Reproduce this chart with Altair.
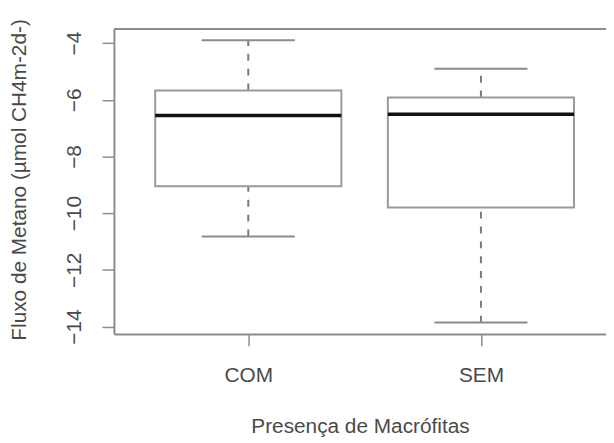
import altair as alt
import pandas as pd

# ---- data ----
groups = ["COM", "SEM"]
group_index = [1, 2]
lower_whisker = [-10.82, -13.86]
q1 = [-9.05, -9.80]
median = [-6.55, -6.51]
q3 = [-5.67, -5.92]
upper_whisker = [-3.90, -4.90]
y_ticks = [-4, -6, -8, -10, -12, -14]

df = pd.DataFrame({
    "grupo": groups,
    "pos": group_index,
    "lw": lower_whisker,
    "q1": q1,
    "med": median,
    "q3": q3,
    "uw": upper_whisker,
})

W, H = 497, 308
FONT = "Liberation Sans"
TXT = "#4a4a4a"
LINE = "#8c8c8c"
FS = 21

xscale = alt.Scale(domain=[0.4226, 2.5375], nice=False, zero=False)
yscale = alt.Scale(domain=[-14.26, -3.5], nice=False, zero=False)

x_axis = alt.Axis(
    values=[1, 2],
    labelExpr="datum.value == 1 ? 'COM' : 'SEM'",
    title="Presença de Macrófitas",
    grid=False,
    domainColor=LINE, domainWidth=2,
    tickColor=LINE, tickWidth=1.5, tickSize=12,
    labelFont=FONT, labelFontSize=FS, labelColor=TXT, labelPadding=19,
    titleFont=FONT, titleFontSize=FS, titleColor=TXT, titleFontWeight="normal",
    titleY=94, titleBaseline="middle",
)
y_axis = alt.Axis(
    values=y_ticks,
    title="Fluxo de Metano (µmol CH4m-2d-)",
    grid=False,
    domainColor=LINE, domainWidth=2,
    tickColor=LINE, tickWidth=1.5, tickSize=12,
    labelFont=FONT, labelFontSize=FS, labelColor=TXT, labelPadding=18,
    labelAngle=270, labelAlign="center", labelBaseline="bottom",
    titleFont=FONT, titleFontSize=FS, titleColor=TXT, titleFontWeight="normal",
    titleAngle=270, titleX=-95, titleY=152, titleAlign="center", titleBaseline="middle",
)

base = alt.Chart(df).transform_calculate(
    lo="datum.pos - 0.4", hi="datum.pos + 0.4",
    clo="datum.pos - 0.2", chi="datum.pos + 0.2",
)

whisk_up = base.mark_rule(color="#7a7a7a", strokeWidth=2, strokeDash=[7, 8]).encode(
    x=alt.X("pos:Q", scale=xscale, axis=x_axis),
    y=alt.Y("q3:Q", scale=yscale, axis=y_axis),
    y2="uw:Q",
)
whisk_dn = base.mark_rule(color="#7a7a7a", strokeWidth=2, strokeDash=[7, 8]).encode(
    x=alt.X("pos:Q", scale=xscale),
    y=alt.Y("lw:Q", scale=yscale),
    y2="q1:Q",
)
cap_up = base.mark_rule(color=LINE, strokeWidth=2).encode(
    x=alt.X("clo:Q", scale=xscale), x2="chi:Q",
    y=alt.Y("uw:Q", scale=yscale),
)
cap_dn = base.mark_rule(color=LINE, strokeWidth=2).encode(
    x=alt.X("clo:Q", scale=xscale), x2="chi:Q",
    y=alt.Y("lw:Q", scale=yscale),
)
box = base.mark_rect(fill="white", stroke="#9a9a9a", strokeWidth=2).encode(
    x=alt.X("lo:Q", scale=xscale), x2="hi:Q",
    y=alt.Y("q1:Q", scale=yscale), y2="q3:Q",
)
med = base.mark_rule(color="#111111", strokeWidth=3.5).encode(
    x=alt.X("lo:Q", scale=xscale), x2="hi:Q",
    y=alt.Y("med:Q", scale=yscale),
)
top = alt.Chart(pd.DataFrame({"k": [0]})).mark_rule(color=LINE, strokeWidth=2).encode(
    x=alt.value(0), x2=alt.value(W), y=alt.value(0),
)

chart = alt.layer(whisk_up, whisk_dn, cap_up, cap_dn, box, med, top).properties(
    width=W, height=H,
    autosize=alt.AutoSizeParams(type="none"),
    padding={"left": 107, "top": 19, "right": 0, "bottom": 106},
).configure_view(strokeWidth=0).configure(background="white")

chart.save("out.html", embed_options={"renderer": "svg", "actions": False})
